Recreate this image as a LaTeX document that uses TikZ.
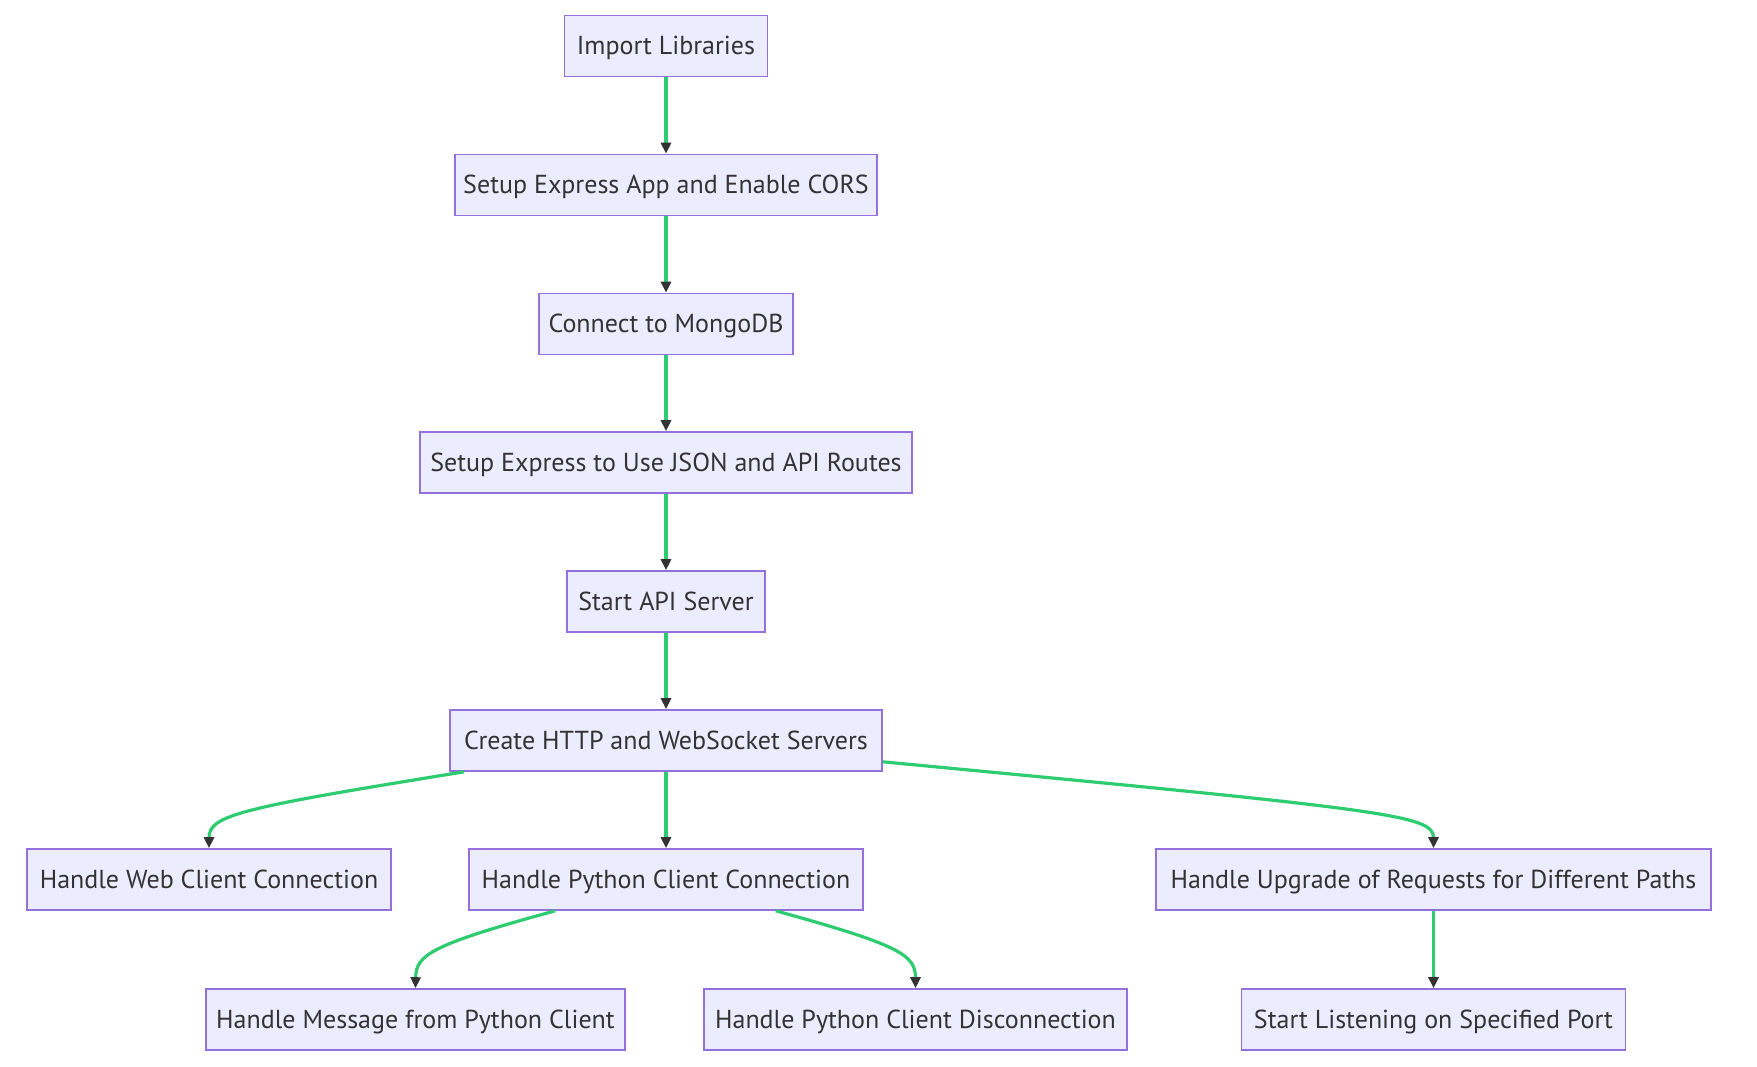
\documentclass[tikz,border=0pt]{standalone}
\usepackage{fontspec}
\setmainfont{PT Sans}
\usetikzlibrary{arrows.meta,calc}
\definecolor{boxfill}{HTML}{ECECFF}
\definecolor{boxline}{HTML}{9370DB}
\definecolor{edgegreen}{HTML}{2ECC71}
\definecolor{tipgray}{HTML}{333333}
\begin{document}
\begin{tikzpicture}[x=1pt,y=-1pt,
  box/.style={draw=boxline,fill=boxfill,line width=1.6pt,minimum height=61pt,inner sep=0pt,
    text height=19pt,text depth=2pt,
    font=\fontsize{26}{30}\selectfont,text=tipgray,anchor=center},
  edge/.style={draw=edgegreen,line width=3.2pt,-{Triangle[length=11pt,width=10pt,color=tipgray]}}]
\useasboundingbox (0,0) rectangle (1757,1066);
\node[box,minimum width=203pt] (imp) at (666,46) {Import Libraries};
\node[box,minimum width=422pt] (sea) at (666,185) {Setup Express App and Enable CORS};
\node[box,minimum width=254pt] (con) at (666,324) {Connect to MongoDB};
\node[box,minimum width=492pt] (json) at (666,462.5) {Setup Express to Use JSON and API Routes};
\node[box,minimum width=198pt] (api) at (666,601.5) {Start API Server};
\node[box,minimum width=432pt] (cr) at (666,740.5) {Create HTTP and WebSocket Servers};
\node[box,minimum width=364pt] (web) at (209,879.5) {Handle Web Client Connection};
\node[box,minimum width=394pt] (py) at (666,879.5) {Handle Python Client Connection};
\node[box,minimum width=555pt] (up) at (1433.5,879.5) {Handle Upgrade of Requests for Different Paths};
\node[box,minimum width=419pt] (msg) at (415.5,1019.5) {Handle Message from Python Client};
\node[box,minimum width=423pt] (dis) at (915.5,1019.5) {Handle Python Client Disconnection};
\node[box,minimum width=384pt] (lis) at (1433.5,1019.5) {Start Listening on Specified Port};
\draw[edge] (imp) -- (sea);
\draw[edge] (sea) -- (con);
\draw[edge] (con) -- (json);
\draw[edge] (json) -- (api);
\draw[edge] (api) -- (cr);
\draw[edge] (cr) -- (py);
\draw[edge] (up) -- (lis);
\draw[edge] ($(cr.south west)+(15,0)$) .. controls (240,808) and (209,815) .. (web.north);
\draw[edge] ($(cr.south east)+(0,-10)$) .. controls (1390,810) and (1433.5,815) .. (up.north);
\draw[edge] ($(py.south west)+(87,0)$) .. controls (430,945) and (416,955) .. (msg.north);
\draw[edge] ($(py.south east)+(-88,0)$) .. controls (900,945) and (915.5,955) .. (dis.north);
\end{tikzpicture}
\end{document}
